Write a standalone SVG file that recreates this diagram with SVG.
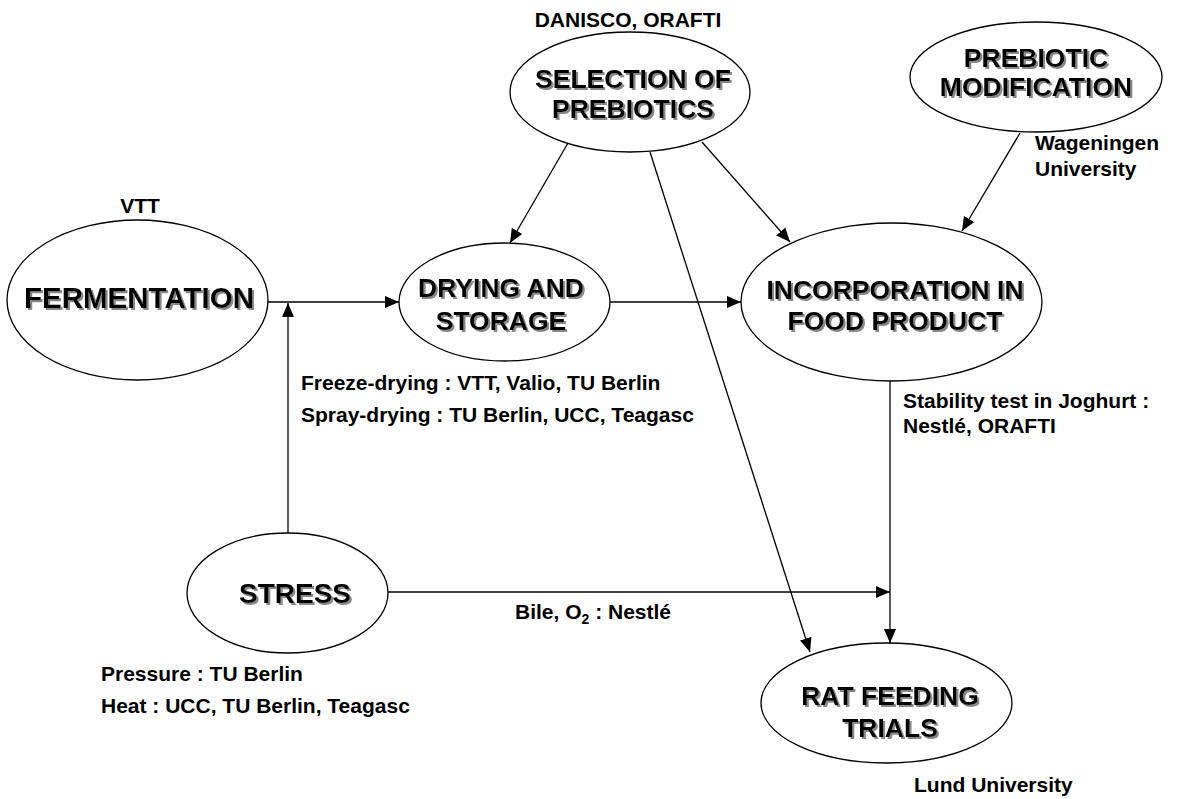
<svg xmlns="http://www.w3.org/2000/svg" width="1179" height="799" viewBox="0 0 1179 799">
<style>
.node ellipse{fill:#fff;stroke:#000;stroke-width:1.3}
.lbl{font-family:"Liberation Sans",Arial,sans-serif;font-weight:bold;font-size:26.5px;text-anchor:middle;fill:#000;filter:url(#sh)}
.sm{font-family:"Liberation Sans",Arial,sans-serif;font-weight:bold;font-size:21px;fill:#000}
.conn line{stroke:#000;stroke-width:1.3;fill:none}
</style>
<defs>
<filter id="sh" x="-10%" y="-30%" width="120%" height="160%">
<feDropShadow dx="2" dy="2" stdDeviation="0.6" flood-color="#888" flood-opacity="1"/>
</filter>
<marker id="ah" markerUnits="userSpaceOnUse" markerWidth="14" markerHeight="14" viewBox="0 0 14 12" refX="14" refY="6" orient="auto">
<path d="M0,0 L14,6 L0,12 Z" fill="#000"/>
</marker>
</defs>
<g id="connectors" class="conn">
<line x1="268" y1="302" x2="399" y2="302" marker-end="url(#ah)"/>
<line x1="288" y1="533" x2="288" y2="303" marker-end="url(#ah)"/>
<line x1="568" y1="143" x2="510" y2="243" marker-end="url(#ah)"/>
<line x1="702" y1="142" x2="790" y2="242" marker-end="url(#ah)"/>
<line x1="650" y1="152" x2="810" y2="652" marker-end="url(#ah)"/>
<line x1="1020" y1="133" x2="962" y2="231" marker-end="url(#ah)"/>
<line x1="610" y1="302" x2="741" y2="302" marker-end="url(#ah)"/>
<line x1="890" y1="381" x2="890" y2="643" marker-end="url(#ah)"/>
<line x1="388" y1="592" x2="890" y2="592" marker-end="url(#ah)"/>
</g>
<g id="fermentation" class="node">
<ellipse cx="137.5" cy="300" rx="130.5" ry="80"/>
<text class="lbl" x="139" y="308" style="font-size:29.5px">FERMENTATION</text>
<text class="sm" x="140" y="213" text-anchor="middle">VTT</text>
</g>
<g id="selection" class="node">
<ellipse cx="630" cy="92" rx="120" ry="60"/>
<text class="lbl" x="633" y="88">SELECTION OF</text>
<text class="lbl" x="633" y="118">PREBIOTICS</text>
<text class="sm" x="628" y="27" text-anchor="middle">DANISCO, ORAFTI</text>
</g>
<g id="prebiotic-modification" class="node">
<ellipse cx="1036" cy="77" rx="126" ry="55"/>
<text class="lbl" x="1036" y="67">PREBIOTIC</text>
<text class="lbl" x="1036" y="96">MODIFICATION</text>
<text class="sm" x="1035" y="150">Wageningen</text>
<text class="sm" x="1035" y="176">University</text>
</g>
<g id="drying" class="node">
<ellipse cx="504.5" cy="302" rx="105.5" ry="59"/>
<text class="lbl" x="501" y="297">DRYING AND</text>
<text class="lbl" x="501" y="330">STORAGE</text>
<text class="sm" x="301" y="390">Freeze-drying : VTT, Valio, TU Berlin</text>
<text class="sm" x="301" y="422">Spray-drying : TU Berlin, UCC, Teagasc</text>
</g>
<g id="incorporation" class="node">
<ellipse cx="891.5" cy="302" rx="150.5" ry="79"/>
<text class="lbl" x="895" y="299">INCORPORATION IN</text>
<text class="lbl" x="895" y="330">FOOD PRODUCT</text>
<text class="sm" x="903" y="408">Stability test in Joghurt :</text>
<text class="sm" x="903" y="433">Nestlé, ORAFTI</text>
</g>
<g id="stress" class="node">
<ellipse cx="287.5" cy="593" rx="100.5" ry="60"/>
<text class="lbl" x="295" y="603" style="font-size:28px">STRESS</text>
<text class="sm" x="101" y="681">Pressure : TU Berlin</text>
<text class="sm" x="101" y="713">Heat : UCC, TU Berlin, Teagasc</text>
<text class="sm" x="515" y="619">Bile, O<tspan dy="5" font-size="14px">2</tspan><tspan dy="-5"> : Nestlé</tspan></text>
</g>
<g id="rat-feeding" class="node">
<ellipse cx="886.5" cy="703" rx="125.5" ry="60"/>
<text class="lbl" x="890" y="705">RAT FEEDING</text>
<text class="lbl" x="890" y="737">TRIALS</text>
<text class="sm" x="914" y="792">Lund University</text>
</g>
</svg>
